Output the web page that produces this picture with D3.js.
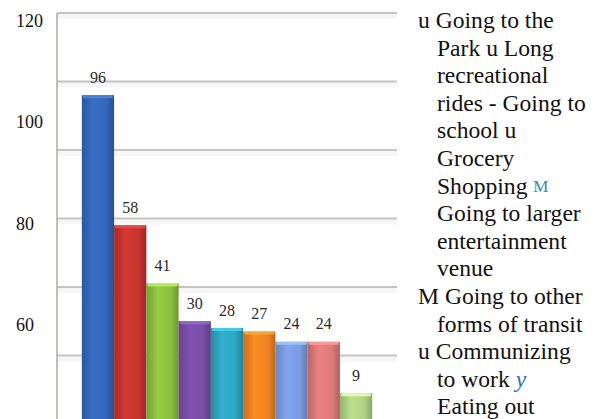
<!DOCTYPE html>
<html>
<head>
<meta charset="utf-8">
<script src="https://cdn.jsdelivr.net/npm/d3@7"></script>
<style>
  html, body { margin: 0; padding: 0; background: #fff; }
  svg { display: block; }
</style>
</head>
<body>
<svg id="chart" width="599" height="419"></svg>
<script>
// ---- data ----
const categories = [
  "Going to the Park",
  "Long recreational rides",
  "Going to school",
  "Grocery Shopping",
  "Going to larger entertainment venue",
  "Going to other forms of transit",
  "Communizing to work",
  "Eating out",
  "Other"
];
const values = [96, 58, 41, 30, 28, 27, 24, 24, 9];
const barColors = ["#3568bc", "#c8352e", "#8dc03e", "#7a4fa8", "#2fa7c2", "#f08422", "#7c9ce2", "#e07a7a", "#b2d386"];
const gridValues = [0, 20, 40, 60, 80, 100, 120];
const tickLabels = [120, 100, 80, 60];
// legend text as it appears (wrapped lines, segments with marker colour)
const legendLines = [
  [{t: "u ", c: "#111"}, {t: "Going to the", c: "#111"}],
  [{t: "Park u Long", c: "#111"}],
  [{t: "recreational", c: "#111"}],
  [{t: "rides - Going to", c: "#111"}],
  [{t: "school u", c: "#111"}],
  [{t: "Grocery", c: "#111"}],
  [{t: "Shopping ", c: "#111"}, {t: "M", c: "#3a86a8", small: true}],
  [{t: "Going to larger", c: "#111"}],
  [{t: "entertainment", c: "#111"}],
  [{t: "venue", c: "#111"}],
  [{t: "M ", c: "#111"}, {t: "Going to other", c: "#111"}],
  [{t: "forms of transit", c: "#111"}],
  [{t: "u ", c: "#111"}, {t: "Communizing", c: "#111"}],
  [{t: "to work ", c: "#111"}, {t: "y", c: "#2f6fb0", italic: true}],
  [{t: "Eating out", c: "#111"}]
];
const legendHanging = [true, false, false, false, false, false, false, false, false, false, true, false, true, false, false];

const SERIF = "'Liberation Serif'";

// ---- layout ----
const svg = d3.select("#chart");
const plotLeft = 57, plotRight = 397, plotTop = 13, plotBottom = 424;

const y = d3.scaleLinear().domain([0, 120]).range([plotBottom, plotTop]);
const x = d3.scaleBand().domain(categories).range([plotLeft, plotRight]).paddingInner(0).paddingOuter(0.77);
const labelScale = d3.scaleLinear().domain([60, 120]).range([325, 21]);

svg.append("rect").attr("width", 599).attr("height", 419).attr("fill", "#fff");

// gridlines
const grid = svg.append("g");
grid.selectAll("rect.band").data(gridValues).join("rect")
  .attr("x", plotLeft).attr("width", plotRight - plotLeft)
  .attr("y", d => y(d) + 1).attr("height", 5)
  .attr("fill", "#f6f6f6");
grid.selectAll("line").data(gridValues).join("line")
  .attr("x1", plotLeft).attr("x2", plotRight)
  .attr("y1", d => y(d)).attr("y2", d => y(d))
  .attr("stroke", "#c4c4c4").attr("stroke-width", 2);

// left axis line
svg.append("line")
  .attr("x1", plotLeft).attr("x2", plotLeft)
  .attr("y1", plotTop).attr("y2", 419)
  .attr("stroke", "#a9ae9c").attr("stroke-width", 1.5);

// tick labels (as printed in the source)
svg.append("g").selectAll("text").data(tickLabels).join("text")
  .attr("x", 16).attr("y", d => labelScale(d))
  .attr("dominant-baseline", "central")
  .style("font-family", SERIF).style("font-size", "18px")
  .attr("fill", "#111")
  .text(d => d);

// gradients
const defs = svg.append("defs");
barColors.forEach((c, i) => {
  const g = defs.append("linearGradient").attr("id", "g" + i)
    .attr("x1", "0").attr("x2", "1").attr("y1", "0").attr("y2", "0");
  const base = d3.color(c);
  g.append("stop").attr("offset", "0%").attr("stop-color", base.darker(0.5));
  g.append("stop").attr("offset", "35%").attr("stop-color", base.brighter(0.15));
  g.append("stop").attr("offset", "75%").attr("stop-color", base);
  g.append("stop").attr("offset", "100%").attr("stop-color", base.darker(0.7));
});

// bars
const bars = svg.append("g");
bars.selectAll("rect.bar").data(values).join("rect")
  .attr("class", "bar")
  .attr("x", (d, i) => x(categories[i]))
  .attr("width", x.bandwidth())
  .attr("y", d => y(d))
  .attr("height", d => y(0) - y(d))
  .attr("fill", (d, i) => `url(#g${i})`);
bars.selectAll("rect.cap").data(values).join("rect")
  .attr("class", "cap")
  .attr("x", (d, i) => x(categories[i]) + 1)
  .attr("width", x.bandwidth() - 2)
  .attr("y", d => y(d))
  .attr("height", 3)
  .attr("rx", 1.5)
  .attr("fill", (d, i) => d3.color(barColors[i]).brighter(0.6));

// value labels
svg.append("g").selectAll("text").data(values).join("text")
  .attr("x", (d, i) => x(categories[i]) + x.bandwidth() / 2)
  .attr("y", d => y(d) - 18)
  .attr("text-anchor", "middle")
  .attr("dominant-baseline", "central")
  .style("font-family", SERIF).style("font-size", "16px")
  .attr("fill", "#2a2a2a")
  .text(d => d);

// legend text
const lg = svg.append("g");
legendLines.forEach((segs, i) => {
  const t = lg.append("text")
    .attr("x", legendHanging[i] ? 418 : 437)
    .attr("y", 20 + i * 27.6)
    .attr("dominant-baseline", "central")
    .style("font-family", SERIF).style("font-size", "23.6px");
  segs.forEach(s => {
    const ts = t.append("tspan").attr("fill", s.c).text(s.t);
    if (s.small) ts.style("font-size", "17px");
    if (s.italic) ts.style("font-style", "italic");
  });
});
</script>
</body>
</html>
